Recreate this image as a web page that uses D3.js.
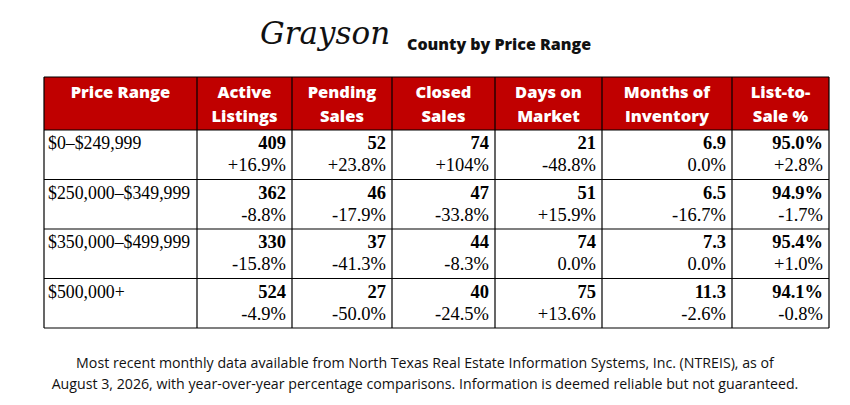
<!DOCTYPE html>
<html>
<head>
<meta charset="utf-8">
<script src="https://d3js.org/d3.v7.min.js"></script>
<style>
body { margin: 0; background: #fff; }
</style>
</head>
<body>
<script>
// data
var headers = [["Price Range"], ["Active", "Listings"], ["Pending", "Sales"], ["Closed", "Sales"],
               ["Days on", "Market"], ["Months of", "Inventory"], ["List-to-", "Sale %"]];
var ranges = ["$0\u2013$249,999", "$250,000\u2013$349,999", "$350,000\u2013$499,999", "$500,000+"];
var values = [
  ["409", "52", "74", "21", "6.9", "95.0%"],
  ["362", "46", "47", "51", "6.5", "94.9%"],
  ["330", "37", "44", "74", "7.3", "95.4%"],
  ["524", "27", "40", "75", "11.3", "94.1%"]
];
var changes = [
  ["+16.9%", "+23.8%", "+104%", "-48.8%", "0.0%", "+2.8%"],
  ["-8.8%", "-17.9%", "-33.8%", "+15.9%", "-16.7%", "-1.7%"],
  ["-15.8%", "-41.3%", "-8.3%", "0.0%", "0.0%", "+1.0%"],
  ["-4.9%", "-50.0%", "-24.5%", "+13.6%", "-2.6%", "-0.8%"]
];
var footer = ["Most recent monthly data available from North Texas Real Estate Information Systems, Inc. (NTREIS), as of",
              "August 3, 2026, with year-over-year percentage comparisons. Information is deemed reliable but not guaranteed."];

var w = 850, h = 405;
var edges = [44, 197, 292, 392, 495, 602, 732, 829];
var red = "#c00000";
var serif = "'Liberation Serif', 'Times New Roman', serif";
var sans = "'Open Sans', 'Noto Sans', sans-serif";

var svg = d3.select("body").append("svg").attr("width", w).attr("height", h);

var yRow = d3.scaleBand().domain(d3.range(ranges.length)).range([130, 328]);

// title
svg.append("text").attr("x", 260).attr("y", 44)
  .attr("font-family", "'DejaVu Serif', serif").attr("font-style", "italic")
  .attr("font-size", 31).attr("fill", "#111").text("Grayson");
svg.append("text").attr("x", 407).attr("y", 50)
  .attr("font-family", sans).attr("font-weight", 800).attr("font-size", 16)
  .attr("fill", "#111").text("County by Price Range");

// header
svg.append("rect").attr("x", edges[0]).attr("y", 77).attr("width", edges[7] - edges[0]).attr("height", 53).attr("fill", red);
headers.forEach(function(hd, i) {
  var cx = (edges[i] + edges[i + 1]) / 2;
  hd.forEach(function(t, j) {
    svg.append("text").attr("x", cx).attr("y", 98 + j * 24)
      .attr("text-anchor", "middle").attr("font-family", sans).attr("font-weight", 800)
      .attr("font-size", 16.5).attr("fill", "#fff").text(t);
  });
});

// body
ranges.forEach(function(r, i) {
  var y0 = yRow(i);
  svg.append("text").attr("x", edges[0] + 4).attr("y", y0 + 19)
    .attr("font-family", serif).attr("font-size", 17.8).attr("fill", "#000").text(r);
  values[i].forEach(function(v, j) {
    var xr = edges[j + 2] - 6;
    svg.append("text").attr("x", xr).attr("y", y0 + 19).attr("text-anchor", "end")
      .attr("font-family", serif).attr("font-weight", "bold").attr("font-size", 18.5).text(v);
    svg.append("text").attr("x", xr).attr("y", y0 + 41).attr("text-anchor", "end")
      .attr("font-family", serif).attr("font-size", 18.5).text(changes[i][j]);
  });
});

// grid lines
var g = svg.append("g").attr("stroke", "#000").attr("stroke-width", 1.2);
edges.forEach(function(x) {
  g.append("line").attr("x1", x).attr("x2", x).attr("y1", 77).attr("y2", 328);
});
[77, 130].concat(ranges.map(function(d, i) { return yRow(i) + yRow.bandwidth(); })).forEach(function(y) {
  g.append("line").attr("x1", edges[0]).attr("x2", edges[7]).attr("y1", y).attr("y2", y);
});

// footer
footer.forEach(function(t, i) {
  svg.append("text").attr("x", 425).attr("y", 368 + i * 21).attr("text-anchor", "middle")
    .attr("font-family", sans).attr("font-size", 14.2).attr("fill", "#111").text(t);
});
</script>
</body>
</html>
